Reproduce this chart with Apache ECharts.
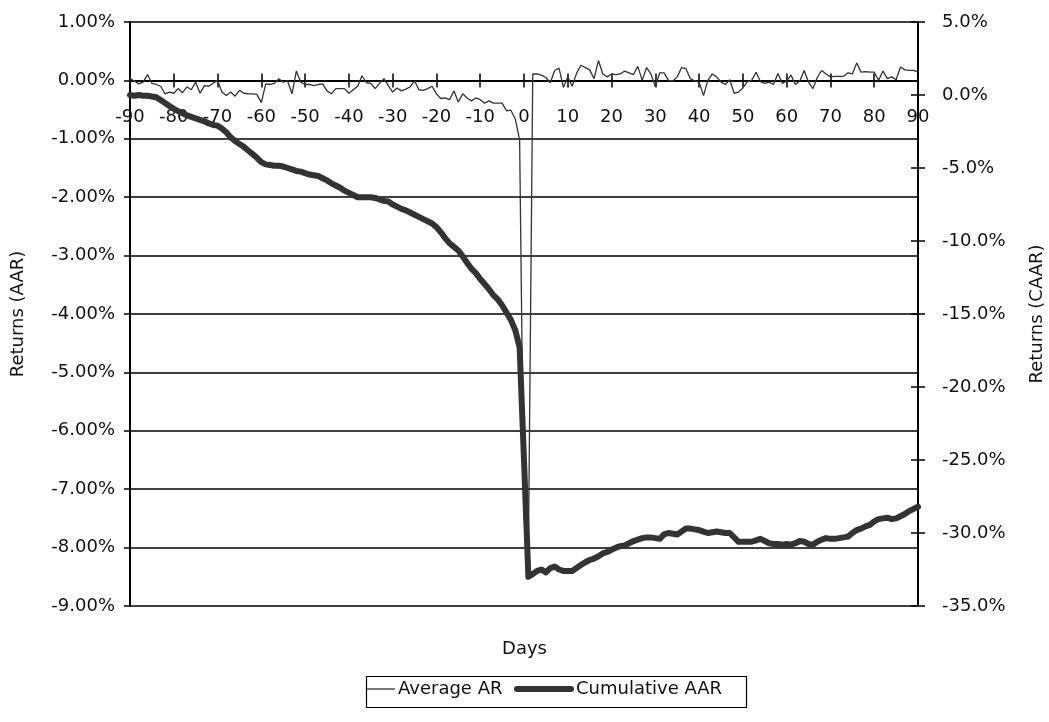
<!DOCTYPE html>
<html>
<head>
<meta charset="utf-8">
<script src="https://cdn.jsdelivr.net/npm/echarts@6/dist/echarts.min.js"></script>
<style>
  html, body { margin: 0; padding: 0; background: #fff; }
  #chart { width: 1049px; height: 722px; }
</style>
</head>
<body>
<div id="chart"></div>
<script>
// event window, days -90 .. 90
var days = [];
for (var d = -90; d <= 90; d++) days.push(d);

// Average AR (%), left axis
var averageAR = [
  0.03, -0.01, -0.06, -0.03, 0.10, -0.05, -0.07, -0.10, -0.23, -0.20,
  -0.22, -0.14, -0.21, -0.11, -0.16, -0.03, -0.22, -0.09, -0.10, -0.05,
  0.00, -0.20, -0.26, -0.20, -0.27, -0.17, -0.22, -0.23, -0.23, -0.24,
  -0.38, -0.06, -0.07, -0.05, 0.03, -0.03, -0.01, -0.23, 0.16, -0.03,
  -0.07, -0.07, -0.09, -0.07, -0.06, -0.18,
  -0.23, -0.14, -0.14, -0.14, -0.22, -0.16, -0.10, 0.08, -0.04, -0.05,
  -0.14, -0.05, 0.03, -0.09, -0.20, -0.13, -0.18, -0.15, -0.11, -0.01,
  -0.16, -0.17, -0.14, -0.10, -0.23, -0.31, -0.30, -0.33, -0.18, -0.37,
  -0.23, -0.30, -0.35, -0.30, -0.33, -0.39, -0.35, -0.39, -0.39, -0.39,
  -0.52, -0.51, -0.66, -1.02,
  -7.5, -8.1,
  0.11, 0.11, 0.09, 0.05, -0.04, 0.17, 0.21, -0.12, 0.06, -0.10, 0.12, 0.26, 0.22, 0.18, 0.03,
  0.34, 0.11, 0.06, 0.11, 0.10, 0.11, 0.16, 0.13, 0.10, 0.24, 0.00, 0.22, 0.11, -0.11, 0.13,
  0.13, 0.00, -0.01, 0.06, 0.22, 0.20, 0.03, -0.01, -0.03, -0.26,
  0.00, 0.11, 0.06, -0.03, -0.07, 0.01, -0.22, -0.20, -0.13, -0.02,
  0.00, 0.14, -0.02, -0.05, -0.03, -0.07, 0.12, -0.05, -0.01, 0.09,
  -0.07, -0.01, 0.17, -0.03, -0.14, 0.05, 0.17, 0.11, 0.06, 0.07,
  0.07, 0.07, 0.13, 0.11, 0.30, 0.14, 0.15, 0.14, 0.14, 0.00,
  0.16, 0.03, 0.06, 0.01, 0.23, 0.18, 0.17, 0.17, 0.14
];

// Cumulative AAR (%), right axis
var cumulativeAAR = [
  0.0, -0.05, 0.0, -0.05, -0.05, -0.1, -0.15, -0.35, -0.55, -0.75,
  -0.95, -1.1, -1.25, -1.4, -1.5, -1.6, -1.7, -1.8, -1.95, -2.05,
  -2.1, -2.3, -2.55, -2.9, -3.15, -3.35, -3.55, -3.8, -4.05, -4.3,
  -4.6, -4.75, -4.8, -4.85, -4.85, -4.9, -5.0, -5.1, -5.2, -5.25,
  -5.35, -5.45, -5.5, -5.55, -5.7, -5.85, -6.05, -6.2, -6.35, -6.55,
  -6.7, -6.85, -7.0, -7.0, -7.0, -7.0, -7.05, -7.15, -7.25, -7.3,
  -7.5, -7.65, -7.8, -7.9, -8.05, -8.2, -8.35, -8.5, -8.65, -8.8,
  -9.05, -9.4, -9.8, -10.15, -10.4, -10.65, -11.05, -11.5, -11.9, -12.2,
  -12.6, -12.95, -13.3, -13.7, -14.0, -14.4, -14.9, -15.4, -16.1, -17.3,
  -25.0, -33.0, -32.8, -32.6, -32.5, -32.7, -32.4, -32.3, -32.5, -32.6,
  -32.6, -32.6, -32.4, -32.2, -32.0, -31.85, -31.75, -31.6, -31.4, -31.3,
  -31.15, -31.0, -30.9, -30.85, -30.7, -30.55, -30.45, -30.35, -30.3, -30.3,
  -30.35, -30.4, -30.1, -30.0, -30.05, -30.1, -29.9, -29.7, -29.7, -29.75,
  -29.8, -29.9, -30.0, -29.95, -29.9, -29.95, -30.0, -30.0, -30.3, -30.6,
  -30.6, -30.6, -30.6, -30.5, -30.4, -30.55, -30.7, -30.75, -30.75, -30.8,
  -30.75, -30.8, -30.7, -30.55, -30.6, -30.75, -30.8, -30.6, -30.45, -30.35,
  -30.4, -30.4, -30.35, -30.3, -30.25, -30.0, -29.8, -29.7, -29.55, -29.45,
  -29.2, -29.05, -29.0, -28.95, -29.05, -29.0, -28.85, -28.7, -28.5, -28.35, -28.2
];

var FONT = 'DejaVu Sans';
var FS = 18;
var chart = echarts.init(document.getElementById('chart'));

var option = {
  backgroundColor: '#fff',
  animation: false,
  textStyle: { fontFamily: FONT, color: '#111' },
  title: {
    text: 'Days',
    left: 'center',
    top: 635,
    textStyle: { fontFamily: FONT, fontSize: FS, fontWeight: 'normal', color: '#111' }
  },
  grid: { left: 130, right: 131, top: 22, bottom: 116, outerBoundsMode: 'none' },
  // frame round the two legend entries
  graphic: [{
    type: 'rect',
    left: 364, top: 674,
    shape: { width: 380, height: 31 },
    style: { fill: 'none', stroke: '#000', lineWidth: 1.2 },
    silent: true
  }],
  legend: [
    {
      left: 367, top: 680, padding: 0,
      itemWidth: 28, itemHeight: 10,
      textStyle: { fontFamily: FONT, fontSize: FS, color: '#111', padding: [0, 0, 0, -2] },
      data: [{ name: 'Average AR', icon: 'path://M0,0H28V1.3H0Z' }]
    },
    {
      left: 514, top: 680, padding: 0,
      itemWidth: 60, itemHeight: 10,
      textStyle: { fontFamily: FONT, fontSize: FS, color: '#111', padding: [0, 0, 0, -3] },
      data: [{ name: 'Cumulative AAR', icon: 'path://M3,0H57A3,3 0 0 1 57,6H3A3,3 0 0 1 3,0Z' }]
    }
  ],
  xAxis: [
    {
      type: 'value',
      min: -90, max: 90, interval: 10,
      axisLine: { onZero: true, onZeroAxisIndex: 0, lineStyle: { color: '#000', width: 1.5 } },
      axisTick: { show: true, length: 7, lineStyle: { color: '#000', width: 1.5 } },
      axisLabel: { show: false },
      splitLine: { show: false }
    },
    {
      // upper half of the crossing ticks
      type: 'value',
      position: 'top',
      min: -90, max: 90, interval: 10,
      axisLine: { onZero: true, onZeroAxisIndex: 0, lineStyle: { color: '#000', width: 1.5 } },
      axisTick: { show: true, length: 7, lineStyle: { color: '#000', width: 1.5 } },
      axisLabel: { show: false },
      splitLine: { show: false }
    },
    {
      // day labels just under the zero line
      type: 'value',
      position: 'bottom',
      offset: -526,
      min: -90, max: 90, interval: 10,
      axisLine: { show: false, onZero: false },
      axisTick: { show: false },
      axisLabel: { margin: 28, fontFamily: FONT, fontSize: FS, color: '#111' },
      splitLine: { show: false }
    }
  ],
  yAxis: [
    {
      type: 'value',
      min: -9, max: 1, interval: 1,
      name: 'Returns (AAR)',
      nameLocation: 'middle',
      nameGap: 103,
      nameRotate: 90,
      nameTextStyle: { fontFamily: FONT, fontSize: FS, color: '#111' },
      axisLine: { show: true, onZero: false, lineStyle: { color: '#000', width: 2 } },
      axisTick: { show: true, length: 6, lineStyle: { color: '#000', width: 1.5 } },
      axisLabel: {
        margin: 15, fontFamily: FONT, fontSize: FS, color: '#111',
        formatter: function (v) { return v.toFixed(2) + '%'; }
      },
      splitLine: { show: true, lineStyle: { color: '#000', width: 1.5 } }
    },
    {
      type: 'value',
      position: 'right',
      min: -35, max: 5, interval: 5,
      name: 'Returns (CAAR)',
      nameLocation: 'middle',
      nameGap: 110,
      nameRotate: 90,
      nameTextStyle: { fontFamily: FONT, fontSize: FS, color: '#111' },
      axisLine: { show: true, onZero: false, lineStyle: { color: '#000', width: 2 } },
      axisTick: { show: true, length: 7, lineStyle: { color: '#000', width: 1.5 } },
      axisLabel: {
        margin: 24, fontFamily: FONT, fontSize: FS, color: '#111',
        formatter: function (v) { return v.toFixed(1) + '%'; }
      },
      splitLine: { show: false }
    },
    {
      // inner half of the right crossing ticks
      type: 'value',
      position: 'right',
      min: -35, max: 5, interval: 5,
      axisLine: { show: false, onZero: false },
      axisTick: { show: true, inside: true, length: 7, lineStyle: { color: '#000', width: 1.5 } },
      axisLabel: { show: false },
      splitLine: { show: false }
    }
  ],
  series: [
    {
      name: 'Average AR',
      type: 'line',
      xAxisIndex: 0,
      yAxisIndex: 0,
      data: days.map(function (d, i) { return [d, averageAR[i]]; }),
      symbol: 'none',
      lineStyle: { color: '#333', width: 1.3 },
      itemStyle: { color: '#333' },
      z: 3
    },
    {
      name: 'Cumulative AAR',
      type: 'line',
      xAxisIndex: 0,
      yAxisIndex: 1,
      data: days.map(function (d, i) { return [d, cumulativeAAR[i]]; }),
      symbol: 'none',
      lineStyle: { color: '#333', width: 6, join: 'round', cap: 'round' },
      itemStyle: { color: '#333' },
      z: 4
    }
  ]
};

chart.setOption(option);
</script>
</body>
</html>
